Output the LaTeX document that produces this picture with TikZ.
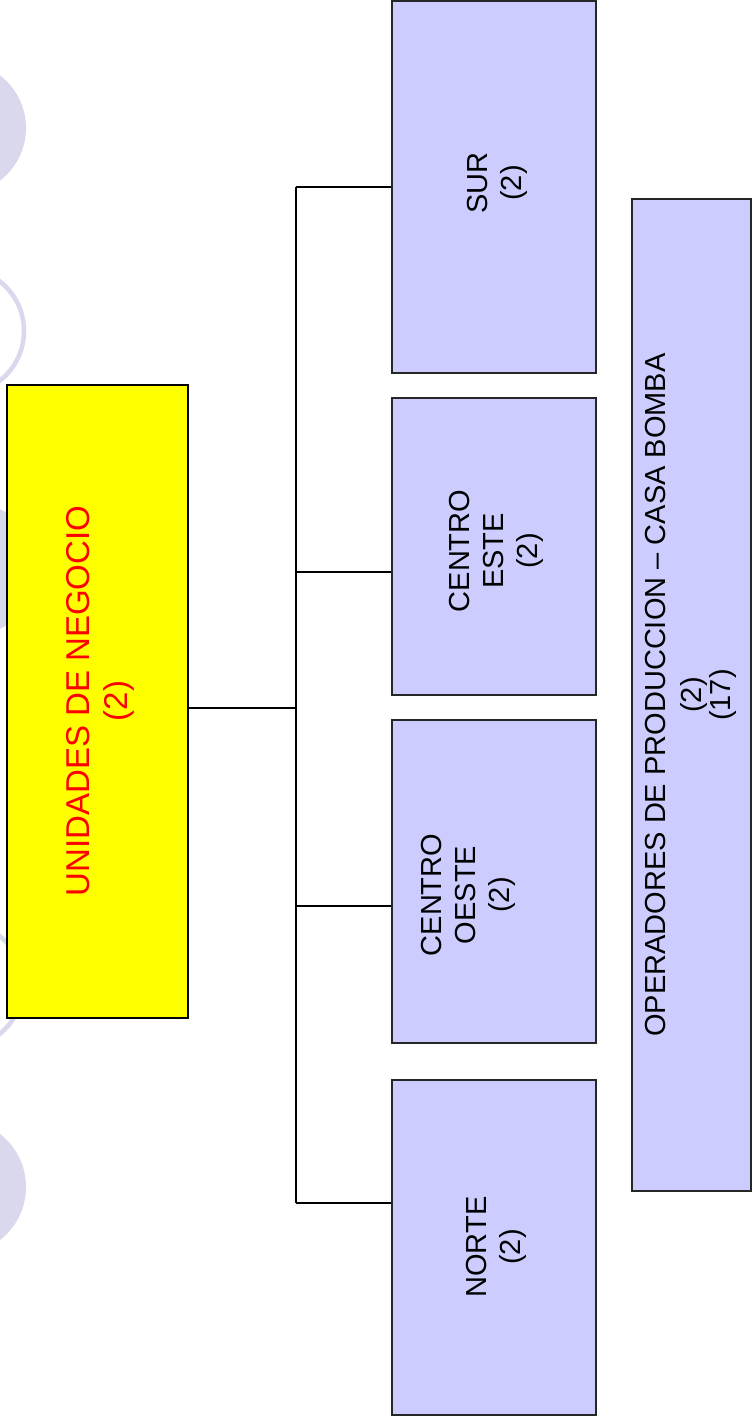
\documentclass[tikz,border=0pt]{standalone}
\usepackage{fontspec}
\setmainfont{Liberation Sans}
\definecolor{deco}{RGB}{217,216,236}
\definecolor{boxfill}{RGB}{204,204,255}
\definecolor{yfill}{RGB}{255,255,0}
\begin{document}
\begin{tikzpicture}[x=1pt,y=-1pt,
  bluebox/.style={draw=black!85, line width=1.3pt, fill=boxfill, inner sep=0pt},
  yellowbox/.style={draw=black, line width=1.3pt, fill=yfill, inner sep=0pt},
  lbl/.style={rotate=90, align=center, inner sep=0pt, font=\fontsize{29}{34}\selectfont},
  conn/.style={draw=black, line width=1.2pt}]
\useasboundingbox (0,0) rectangle (752,1416);
\fill[white] (0,0) rectangle (752,1416);
\begin{scope}
  \clip (0,0) rectangle (752,1416);
  \fill[deco] (-40,128) circle[radius=66];
  \draw[deco, line width=4.5pt] (-39,331) circle[radius=63];
  \fill[deco] (-28,569) circle[radius=66];
  \draw[deco, line width=4.5pt] (-40,985) circle[radius=63];
  \fill[deco] (-41,1187) circle[radius=67];
\end{scope}
% boxes
\node[yellowbox, minimum width=181, minimum height=633] (un) at (97.5,701.5) {};
\node[bluebox, minimum width=204, minimum height=372] (sur) at (494,187) {};
\node[bluebox, minimum width=204, minimum height=297] (ce) at (494,546.5) {};
\node[bluebox, minimum width=204, minimum height=323] (co) at (494,881.5) {};
\node[bluebox, minimum width=204, minimum height=335] (no) at (494,1247.5) {};
\node[bluebox, minimum width=119, minimum height=992] (op) at (691.5,695) {};
% labels
\node[lbl, text=red, font=\fontsize{33}{38}\selectfont] (unt) at (100,701) {UNIDADES DE NEGOCIO\\(2)};
\node[lbl] (surt) at (497,183) {SUR\\(2)};
\node[lbl] (cet) at (496,551) {CENTRO\\ESTE\\(2)};
\node[lbl] (cot) at (468,895) {CENTRO\\OESTE\\(2)};
\node[lbl] (not) at (496,1247) {NORTE\\(2)};
\node[lbl] (opt) at (691,695) {OPERADORES DE PRODUCCION – CASA BOMBA\\[2pt](2)\\[-5pt](17)};
% connectors
\coordinate (j) at (296,708);
\coordinate (js) at (296,187);
\coordinate (jce) at (296,572);
\coordinate (jco) at (296,906);
\coordinate (jn) at (296,1203);
\draw[conn] (un.east |- j) -- (j);
\draw[conn] (js) -- (jn);
\draw[conn] (js) -- (sur.west |- js);
\draw[conn] (jce) -- (ce.west |- jce);
\draw[conn] (jco) -- (co.west |- jco);
\draw[conn] (jn) -- (no.west |- jn);
\end{tikzpicture}
\end{document}
